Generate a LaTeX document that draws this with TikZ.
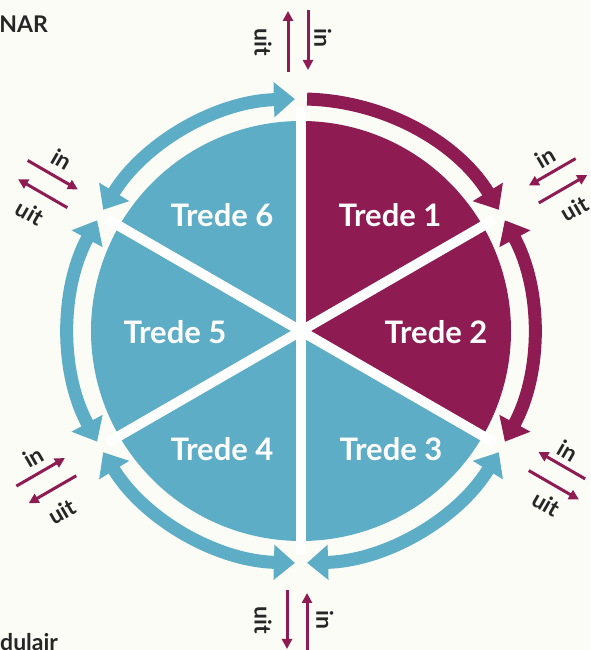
\documentclass[tikz,border=0pt]{standalone}
\usepackage{fontspec}
\setmainfont{Lato}
\usetikzlibrary{arrows.meta}
\definecolor{trblue}{RGB}{93,173,199}
\definecolor{trred}{RGB}{142,27,82}
\definecolor{paper}{RGB}{252,252,246}
\tikzset{
	bl/.style={trblue},
	mg/.style={trred},
	sep/.style={white,line width=10pt},
	ring/.style={line width=13pt},
	one/.style={ring,arrows={-Triangle[length=21pt,width=34pt]}},
	two/.style={ring,arrows={Triangle[length=21pt,width=34pt]-Triangle[length=21pt,width=34pt]}},
	io/.style={trred,line width=3pt,arrows={-Triangle[length=10pt,width=10pt]}},
	lbl/.style={inner sep=0pt,text=black!85,font=\bfseries\fontsize{23}{28}\selectfont},
	trede/.style={inner sep=0pt,text=white,font=\bfseries\fontsize{31}{36}\selectfont},
}
\begin{document}
\begin{tikzpicture}[x=1pt,y=1pt]
	\fill [paper] (0,0) rectangle (590,650);
	\useasboundingbox (0,0) rectangle (590,650);

	\node [lbl,anchor=base east] (nar) at (48,617) {NAR};
	\node [lbl,anchor=base west] (dulair) at (0,0) {dulair};

	\coordinate (C) at (301,319);

	\begin{scope}[shift={(C)}]
		% sectors
		\fill [mg] (0,0) -- (90:210) arc[start angle=90,end angle=30,radius=210] -- cycle;
		\fill [mg] (0,0) -- (30:210) arc[start angle=30,end angle=-30,radius=210] -- cycle;
		\fill [bl] (0,0) -- (-30:210) arc[start angle=-30,end angle=-90,radius=210] -- cycle;
		\fill [bl] (0,0) -- (-90:210) arc[start angle=-90,end angle=-150,radius=210] -- cycle;
		\fill [bl] (0,0) -- (-150:210) arc[start angle=-150,end angle=-210,radius=210] -- cycle;
		\fill [bl] (0,0) -- (150:210) arc[start angle=150,end angle=90,radius=210] -- cycle;

		\draw [sep] (0,0) -- (90:224);
		\draw [sep] (0,0) -- (30:224);
		\draw [sep] (0,0) -- (-30:224);
		\draw [sep] (0,0) -- (-90:224);
		\draw [sep] (0,0) -- (-150:224);
		\draw [sep] (0,0) -- (150:224);

		% ring
		\draw [one,mg] (88.5:232) arc[start angle=88.5,end angle=31.5,radius=232];
		\draw [two,mg] (28.5:232) arc[start angle=28.5,end angle=-28.5,radius=232];
		\draw [two,bl] (-31.5:232) arc[start angle=-31.5,end angle=-88.5,radius=232];
		\draw [two,bl] (-91.5:232) arc[start angle=-91.5,end angle=-148.5,radius=232];
		\draw [two,bl] (-151.5:232) arc[start angle=-151.5,end angle=-208.5,radius=232];
		\draw [two,bl] (148.5:232) arc[start angle=148.5,end angle=91.5,radius=232];

		\node [trede] (t1) at (89,116) {Trede 1};
		\node [trede] (t2) at (135,-1) {Trede 2};
		\node [trede] (t3) at (90,-118) {Trede 3};
		\node [trede] (t4) at (-79,-118) {Trede 4};
		\node [trede] (t5) at (-126,-1) {Trede 5};
		\node [trede] (t6) at (-79,116) {Trede 6};

		% in / uit
		\begin{scope}[rotate=90]
			\coordinate (ua1) at (259,13); \coordinate (ub1) at (320,13);
			\coordinate (ia1) at (321,-7); \coordinate (ib1) at (261,-7);
			\draw [io] (ua1) -- (ub1);
			\draw [io] (ia1) -- (ib1);
			\node [lbl,rotate=-90] (uit1) at (289,38) {uit};
			\node [lbl,rotate=-90] (in1) at (293,-22) {in};
		\end{scope}
		\begin{scope}[rotate=30]
			\coordinate (ua2) at (270,-8); \coordinate (ub2) at (326,-8);
			\coordinate (ia2) at (324,12); \coordinate (ib2) at (270,12);
			\draw [io] (ua2) -- (ub2);
			\draw [io] (ia2) -- (ib2);
			\node [lbl,rotate=30] (uit2) at (298,-31) {uit};
			\node [lbl,rotate=30] (in2) at (298,28) {in};
		\end{scope}
		\begin{scope}[rotate=-30]
			\coordinate (ua3) at (267,-7); \coordinate (ub3) at (325,-7);
			\coordinate (ia3) at (320,14); \coordinate (ib3) at (266,14);
			\draw [io] (ua3) -- (ub3);
			\draw [io] (ia3) -- (ib3);
			\node [lbl,rotate=-30] (uit3) at (299,-27) {uit};
			\node [lbl,rotate=-30] (in3) at (291,30) {in};
		\end{scope}
		\begin{scope}[rotate=270]
			\coordinate (ua4) at (259,-14); \coordinate (ub4) at (318,-14);
			\coordinate (ia4) at (320,6); \coordinate (ib4) at (262,6);
			\draw [io] (ua4) -- (ub4);
			\draw [io] (ia4) -- (ib4);
			\node [lbl,rotate=-90] (uit4) at (289,-38) {uit};
			\node [lbl,rotate=-90] (in4) at (289,24) {in};
		\end{scope}
		\begin{scope}[rotate=210]
			\coordinate (ua5) at (267,13); \coordinate (ub5) at (322,13);
			\coordinate (ia5) at (324,-8); \coordinate (ib5) at (268,-8);
			\draw [io] (ua5) -- (ub5);
			\draw [io] (ia5) -- (ib5);
			\node [lbl,rotate=30] (uit5) at (297,37) {uit};
			\node [lbl,rotate=30] (in5) at (295,-25) {in};
		\end{scope}
		\begin{scope}[rotate=150]
			\coordinate (ua6) at (264,10); \coordinate (ub6) at (321,10);
			\coordinate (ia6) at (322,-11); \coordinate (ib6) at (264,-11);
			\draw [io] (ua6) -- (ub6);
			\draw [io] (ia6) -- (ib6);
			\node [lbl,rotate=-30] (uit6) at (294,33) {uit};
			\node [lbl,rotate=-30] (in6) at (293,-29) {in};
		\end{scope}
	\end{scope}
\end{tikzpicture}
\end{document}
